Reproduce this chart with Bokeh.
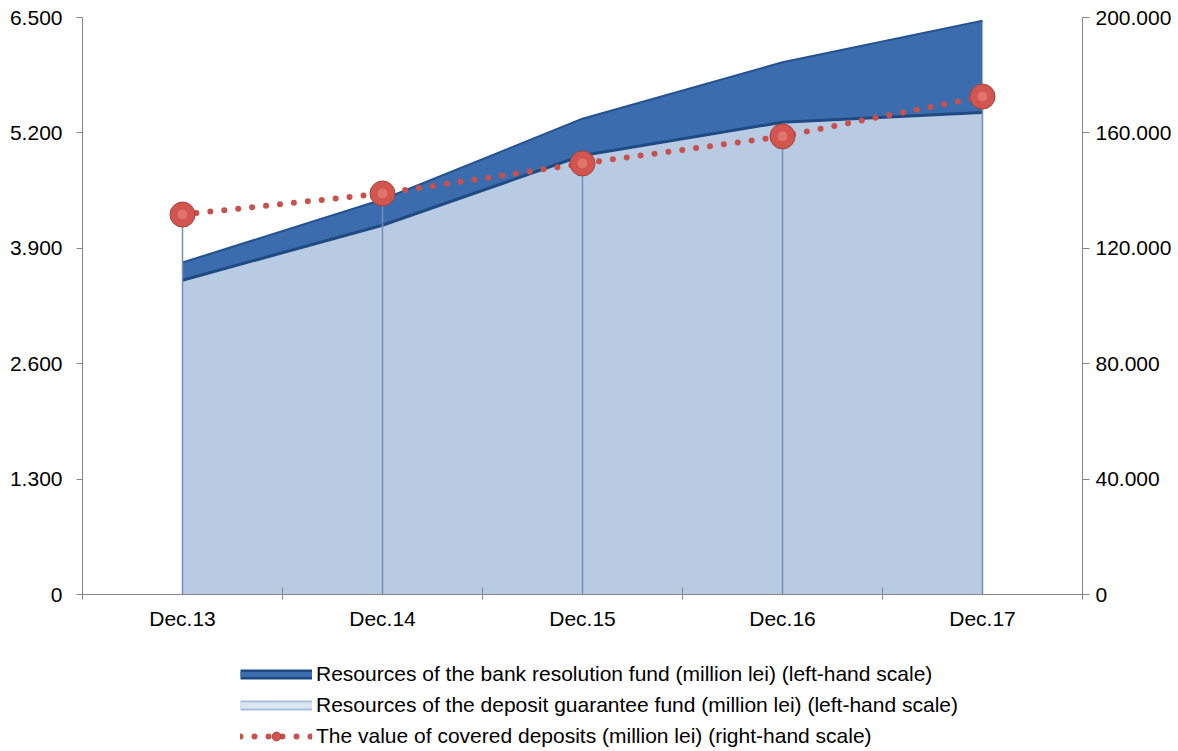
import numpy as np
from bokeh.plotting import figure
from bokeh.layouts import column
from bokeh.models import Range1d, LinearAxis, FixedTicker, Legend, LegendItem
from bokeh.embed import file_html
from bokeh.resources import INLINE

categories = ["Dec.13", "Dec.14", "Dec.15", "Dec.16", "Dec.17"]
deposit_guarantee_fund = [3540, 4160, 4945, 5320, 5430]
bank_resolution_fund = [200, 290, 415, 675, 1035]
covered_deposits = [131700, 139000, 149400, 158800, 172600]

left_ticks = [0, 1300, 2600, 3900, 5200, 6500]
left_labels = ["0", "1.300", "2.600", "3.900", "5.200", "6.500"]
right_ticks = [0, 40000, 80000, 120000, 160000, 200000]
right_labels = ["0", "40.000", "80.000", "120.000", "160.000", "200.000"]

series_names = [
    "Resources of the bank resolution fund (million lei) (left-hand scale)",
    "Resources of the deposit guarantee fund (million lei) (left-hand scale)",
    "The value of covered deposits (million lei) (right-hand scale)",
]

FONT = "Liberation Sans"
FS = "21px"
DARK = "#3a6cae"
DARK_EDGE = "#1f4a82"
LIGHT = "#b9cbe3"
RED = "#c9504d"

n = len(categories)
x = np.arange(n) + 0.5
guar = np.array(deposit_guarantee_fund, dtype=float)
total = guar + np.array(bank_resolution_fund, dtype=float)

p = figure(frame_width=1000, frame_height=577, output_backend="svg", toolbar_location=None,
           x_range=Range1d(0, n), y_range=Range1d(0, 6500),
           min_border_left=82, min_border_right=80, min_border_top=17, min_border_bottom=56,
           border_fill_color="white")
p.outline_line_color = None
p.grid.visible = False
p.xaxis.visible = False
p.yaxis.visible = False
p.extra_y_ranges = {"right": Range1d(0, 200000)}

# x axis
xax = LinearAxis(ticker=FixedTicker(ticks=list(x), minor_ticks=list(range(n + 1))))
xax.major_label_overrides = {v: c for v, c in zip([0.5, 1.5, 2.5, 3.5, 4.5], categories)}
xax.major_tick_in = 0
xax.major_tick_out = 0
xax.minor_tick_in = 7
xax.minor_tick_out = 5
xax.minor_tick_line_color = "#868686"
xax.axis_line_color = "#868686"
xax.major_label_standoff = 7
xax.major_label_text_font = FONT
xax.major_label_text_font_size = FS
xax.major_label_text_color = "black"
p.add_layout(xax, "below")

# left axis
lax = LinearAxis(ticker=FixedTicker(ticks=left_ticks, minor_ticks=[]))
lax.major_label_overrides = {t: l for t, l in zip(left_ticks, left_labels)}
lax.major_tick_in = 0
lax.major_tick_out = 6
lax.major_tick_line_color = "#868686"
lax.axis_line_color = "#868686"
lax.major_label_standoff = 14
lax.major_label_text_font = FONT
lax.major_label_text_font_size = FS
lax.major_label_text_color = "black"
p.add_layout(lax, "left")

# right axis
rax = LinearAxis(y_range_name="right", ticker=FixedTicker(ticks=right_ticks, minor_ticks=[]))
rax.major_label_overrides = {t: l for t, l in zip(right_ticks, right_labels)}
rax.major_tick_in = 0
rax.major_tick_out = 7
rax.major_tick_line_color = "#868686"
rax.axis_line_color = "#868686"
rax.major_label_standoff = 6
rax.major_label_text_font = FONT
rax.major_label_text_font_size = FS
rax.major_label_text_color = "black"
p.add_layout(rax, "right")

# areas
p.varea(x=x, y1=0, y2=guar, fill_color=LIGHT, fill_alpha=1.0)
p.line(x=x, y=guar, line_color="#e3ecf7", line_width=3)
p.varea(x=x, y1=guar, y2=total, fill_color=DARK, fill_alpha=1.0)
p.line(x=x, y=guar, line_color=DARK_EDGE, line_width=3)
p.line(x=x, y=total, line_color="#23528f", line_width=2)

# drop lines
p.segment(x0=x, y0=0, x1=x, y1=covered_deposits, y_range_name="right",
          line_color="#7590b8", line_width=1.5)

# covered deposits
p.line(x=x, y=covered_deposits, y_range_name="right", line_color=RED,
       line_width=6, line_dash="0 14", line_cap="round")
p.scatter(x=x, y=covered_deposits, y_range_name="right", size=25,
          fill_color="#d2554f", line_color="#a5423e", line_width=1)
p.scatter(x=x, y=covered_deposits, y_range_name="right", size=10,
          fill_color="#e98a84", line_color=None, fill_alpha=0.6)

# legend figure
lg = figure(frame_width=1162, frame_height=101, output_backend="svg", toolbar_location=None,
            x_range=Range1d(0, 1), y_range=Range1d(0, 1),
            min_border=0, border_fill_color="white")
lg.outline_line_color = None
lg.grid.visible = False
lg.axis.visible = False
d1 = lg.line(x=[-10, -9], y=[-10, -10], line_color=DARK_EDGE, line_width=10)
d2 = lg.line(x=[-10, -9], y=[-10, -10], line_color=DARK, line_width=5)
l1 = lg.line(x=[-10, -9], y=[-10, -10], line_color="#a9bedb", line_width=10)
l2 = lg.line(x=[-10, -9], y=[-10, -10], line_color="#dbe6f3", line_width=6)
r_line = lg.line(x=[-10, -9], y=[-10, -10], line_color=RED, line_width=6, line_dash="0 14", line_cap="round")
r_mark = lg.scatter(x=[-10], y=[-10], size=16, fill_color="#d2554f", line_color="#a5423e")

legend = Legend(items=[
    LegendItem(label=series_names[0], renderers=[d1, d2]),
    LegendItem(label=series_names[1], renderers=[l1, l2]),
    LegendItem(label=series_names[2], renderers=[r_line, r_mark]),
], location=(240, 3), orientation="vertical")
legend.label_text_font = FONT
legend.label_text_font_size = FS
legend.label_text_color = "black"
legend.label_height = 22
legend.glyph_width = 72
legend.glyph_height = 22
legend.label_standoff = 4
legend.spacing = 7
legend.padding = 0
legend.margin = 0
legend.border_line_color = None
legend.background_fill_alpha = 0
lg.add_layout(legend, "center")

layout = column(p, lg, spacing=0)
open("out.html", "w").write(file_html(layout, INLINE))
